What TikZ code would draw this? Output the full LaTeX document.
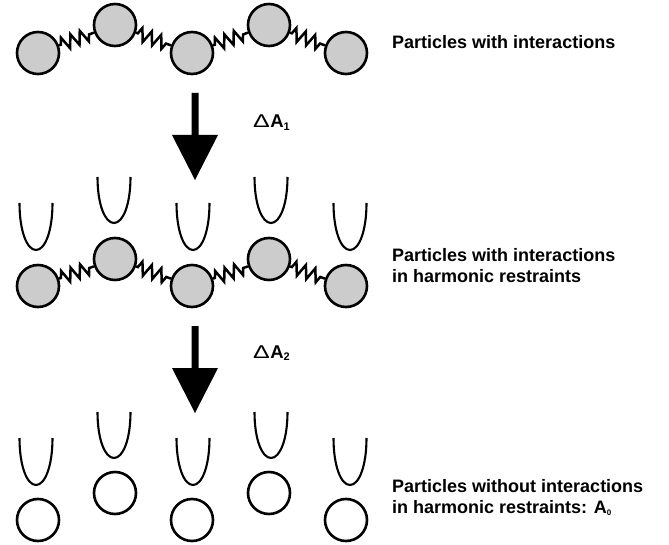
\documentclass[tikz,border=0pt]{standalone}
\usepackage{fontspec}
\setmainfont{Liberation Sans}
\usetikzlibrary{decorations.pathmorphing}
\tikzset{
  ball/.style={circle, draw=black, line width=2.6pt, fill=black!20, minimum size=42pt, inner sep=0pt},
  freeball/.style={circle, draw=black, line width=2.6pt, fill=white, minimum size=42pt, inner sep=0pt},
  spring/.style={draw=black, line width=2.5pt, line join=miter, decorate, decoration={zigzag, segment length=10pt, amplitude=6.5pt, pre length=2pt, post length=2pt}},
  well/.style={draw=black, line width=2.1pt},
  bigarrow/.style={fill=black, draw=none},
  lab/.style={font=\bfseries\fontsize{18}{21}\selectfont, align=left, anchor=base west, inner sep=0pt},
  dlab/.style={font=\fontsize{18.5}{20}\selectfont, anchor=base west, inner sep=0pt}
}
\newcommand\wellU[3]{%
  \draw[well] ({#1-16.5},#2) .. controls ({#1-16.5},{#2+0.6*(#3-#2)}) and ({#1-9},#3) .. ({#1},#3)
     .. controls ({#1+9},#3) and ({#1+16.5},{#2+0.6*(#3-#2)}) .. ({#1+16.5},#2);}
\newcommand\bigarrowat[1]{%
  \fill[bigarrow] (191.5,#1) -- (198.5,#1) -- (198.5,{#1+42}) -- (218,{#1+42}) -- (195,{#1+87}) -- (172,{#1+42}) -- (191.5,{#1+42}) -- cycle;}
\newcommand\dA[1]{\scalebox{1.35}[1]{Δ}\kern0.5pt\textbf{A}\raisebox{-2.5pt}{\textbf{\fontsize{11}{11}\selectfont #1}}}
\begin{document}
\begin{tikzpicture}[x=1pt,y=-1pt]
\useasboundingbox (0,0) rectangle (669,545);
% top row
\node[ball] (t1) at (38,53) {};
\node[ball] (t2) at (115,25) {};
\node[ball] (t3) at (192,53) {};
\node[ball] (t4) at (269,25) {};
\node[ball] (t5) at (346,53) {};
\draw[spring] (t1) -- (t2);
\draw[spring] (t2) -- (t3);
\draw[spring] (t3) -- (t4);
\draw[spring] (t4) -- (t5);
\node[lab] (l1) at (392,49) {Particles with interactions};
% arrow 1
\bigarrowat{93}
\node[dlab] (d1) at (253,128) {\dA{1}};
% middle row
\wellU{36}{203}{250}
\wellU{114}{177}{223}
\wellU{193}{203}{250}
\wellU{271}{177}{223}
\wellU{350}{203}{250}
\node[ball] (m1) at (38,286) {};
\node[ball] (m2) at (115,259) {};
\node[ball] (m3) at (192,286) {};
\node[ball] (m4) at (269,259) {};
\node[ball] (m5) at (346,286) {};
\draw[spring] (m1) -- (m2);
\draw[spring] (m2) -- (m3);
\draw[spring] (m3) -- (m4);
\draw[spring] (m4) -- (m5);
\node[lab] (l2) at (392,283) {Particles with interactions\\in harmonic restraints};
% arrow 2
\bigarrowat{326}
\node[dlab] (d2) at (253,358) {\dA{2}};
% bottom row
\wellU{36}{438}{485}
\wellU{114}{412}{458}
\wellU{193}{438}{485}
\wellU{271}{412}{458}
\wellU{350}{438}{485}
\node[freeball] (b1) at (38,520) {};
\node[freeball] (b2) at (115,493) {};
\node[freeball] (b3) at (192,520) {};
\node[freeball] (b4) at (269,493) {};
\node[freeball] (b5) at (346,520) {};
\node[lab] (l3) at (392,513) {Particles without interactions\\in harmonic restraints: A\raisebox{-2pt}{\fontsize{8}{8}\selectfont 0}};
\end{tikzpicture}
\end{document}
